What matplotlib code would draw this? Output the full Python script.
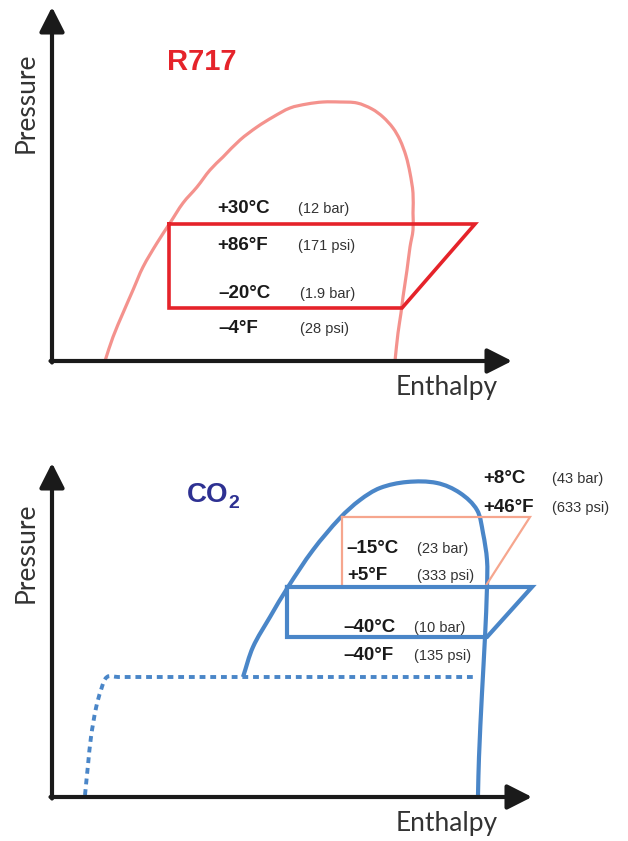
import matplotlib
matplotlib.use("Agg")
import numpy as np
import matplotlib.pyplot as plt
from matplotlib.path import Path
from matplotlib.patches import PathPatch

# Schematic p-h diagrams (arbitrary enthalpy / pressure units, origin at axis corner)

# R717 saturation dome
r717_h = [53, 61, 71, 81, 91, 105, 118, 131, 145, 158, 171, 188, 205, 221, 238, 255, 271,
          288, 305, 320, 331, 341, 348, 354, 358, 361, 361, 361, 358, 355, 351, 349, 346, 343]
r717_p = [0, 24, 48, 71, 94, 118, 138, 158, 174, 191, 204, 221, 234, 244, 253, 257, 259,
          259, 258, 252, 244, 233, 221, 205, 188, 168, 148, 131, 114, 91, 64, 48, 28, 0]
# R717 refrigeration cycle
r717_cycle_h = [117, 423, 350, 117, 117]
r717_cycle_p = [137, 137, 53, 53, 137]

# CO2 saturation dome
co2_h = [191, 201, 218, 236, 261, 288, 308, 328, 355, 385, 408, 425, 431, 435, 435, 433, 430, 427, 426]
co2_p = [120, 150, 180, 210, 247, 279, 297, 309, 315, 314, 304, 287, 264, 237, 210, 160, 104, 40, 2]
# CO2 solid/triple line (dashed)
co2_dash_h = [33, 36, 39, 44, 49, 55, 66, 423]
co2_dash_p = [2, 32, 60, 89, 107, 120, 120, 120]
# upper (+8°C / -15°C) and lower (-40°C) cycles
co2_hi_h = [290, 478, 433, 290, 290]
co2_hi_p = [280, 280, 210, 210, 280]
co2_lo_h = [235, 480, 435, 235, 235]
co2_lo_p = [210, 210, 160, 160, 210]

# labels: (temperature, pressure-in-brackets, h_temp, h_press, p_baseline)
r717_labels = [("+30°C", "(12 bar)", 165, 246, 148),
               ("+86°F", "(171 psi)", 165, 246, 111),
               ("–20°C", "(1.9 bar)", 166, 248, 63),
               ("–4°F", "(28 psi)", 166, 248, 28)]
co2_labels = [("+8°C", "(43 bar)", 431, 500, 314),
              ("+46°F", "(633 psi)", 431, 500, 285),
              ("–15°C", "(23 bar)", 294, 365, 244),
              ("+5°F", "(333 psi)", 295, 365, 217),
              ("–40°C", "(10 bar)", 291, 362, 165),
              ("–40°F", "(135 psi)", 291, 362, 137)]

AXIS = "#1a1a1a"
RED = "#e5232a"
PINK = "#f4928d"
BLUE = "#4a86c8"
SALMON = "#f6a68e"
NAVY = "#2e3192"

fig = plt.figure(figsize=(6.28, 8.41), dpi=100)
ax1 = fig.add_axes([52 / 628, 480 / 841, 576 / 628, 361 / 841])
ax2 = fig.add_axes([52 / 628, 44 / 841, 576 / 628, 356 / 841])
ax1.set_xlim(0, 576)
ax1.set_ylim(0, 361)
ax2.set_xlim(0, 576)
ax2.set_ylim(0, 356)


def smooth_curve(ax, h, p, **kw):
    # cubic Bezier segments through every given point, tangents scaled by chord length
    pts = np.column_stack([h, p]).astype(float)
    n = len(pts)
    tang = np.zeros_like(pts)
    for i in range(n):
        d = pts[min(i + 1, n - 1)] - pts[max(i - 1, 0)]
        tang[i] = d / np.hypot(*d)
    verts, codes = [pts[0]], [Path.MOVETO]
    for i in range(n - 1):
        L = np.hypot(*(pts[i + 1] - pts[i])) / 3
        verts += [pts[i] + tang[i] * L, pts[i + 1] - tang[i + 1] * L, pts[i + 1]]
        codes += [Path.CURVE4] * 3
    ax.add_patch(PathPatch(Path(verts, codes), fill=False, **kw))


def draw_axes(ax, xtip, ytip):
    ax.axis("off")
    arrow = dict(arrowstyle="-|>,head_length=0.75,head_width=0.38", lw=3, color=AXIS,
                 shrinkA=0, shrinkB=0, mutation_scale=20)
    ax.annotate("", xy=(0, ytip), xytext=(0, -1.5), arrowprops=arrow, annotation_clip=False)
    ax.annotate("", xy=(xtip, 0), xytext=(-1.5, 0), arrowprops=arrow, annotation_clip=False)
    ax.text(-26, ytip * 0.73, "Pressure", rotation=90, ha="center", va="center",
            fontsize=19, color="#333333", family="Lato", clip_on=False)
    ax.text(395, -34, "Enthalpy", ha="center", va="baseline",
            fontsize=19, color="#333333", family="Lato", clip_on=False)


def draw_labels(ax, labels):
    for t, p, h1, h2, y in labels:
        ax.text(h1, y, t, fontsize=13.5, fontweight="bold", family="Liberation Sans",
                color="#1a1a1a", va="baseline", ha="left")
        ax.text(h2, y, p, fontsize=10.5, family="Liberation Sans",
                color="#333333", va="baseline", ha="left")


# --- R717 panel
draw_axes(ax1, 460, 354)
smooth_curve(ax1, r717_h, r717_p, edgecolor=PINK, lw=2.3, capstyle="butt", clip_on=False)
ax1.plot(r717_cycle_h, r717_cycle_p, color=RED, lw=2.6, solid_joinstyle="miter")
ax1.text(150, 291, "R717", fontsize=21, fontweight="bold", family="Liberation Sans",
         color=RED, ha="center", va="baseline")
draw_labels(ax1, r717_labels)

# --- CO2 panel
draw_axes(ax2, 480, 334)
smooth_curve(ax2, co2_dash_h, co2_dash_p, edgecolor=BLUE, lw=2.8, linestyle=(0, (1.5, 1.25)))
smooth_curve(ax2, co2_h, co2_p, edgecolor=BLUE, lw=3, capstyle="butt")
ax2.plot(co2_hi_h, co2_hi_p, color=SALMON, lw=1.6, solid_joinstyle="miter")
ax2.plot(co2_lo_h, co2_lo_p, color=BLUE, lw=3, solid_joinstyle="miter")
ax2.text(135, 295, "CO", fontsize=20, fontweight="bold", family="Liberation Sans",
         color=NAVY, ha="left", va="baseline")
ax2.text(176, 289, "2", fontsize=14, fontweight="bold", family="Liberation Sans",
         color=NAVY, ha="left", va="baseline")
draw_labels(ax2, co2_labels)

fig.savefig("out.png", dpi=100)
